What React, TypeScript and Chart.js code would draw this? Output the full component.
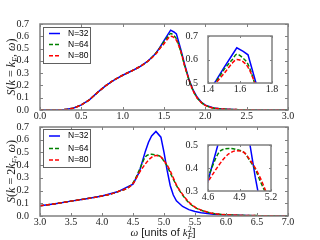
import { useEffect, useRef } from 'react';
import { Chart, registerables } from 'chart.js';
Chart.register(...registerables);

// ---------- data ----------
const seriesLabels = ['N=32', 'N=64', 'N=80'];
const seriesColors = ['#0000ff', '#008000', '#ff0000'];
const seriesDash: number[][] = [[], [4, 2], [4, 2]];

const topOmega = [0, 0.1, 0.2, 0.3, 0.4, 0.5, 0.6, 0.7, 0.8, 0.9, 1.0, 1.1, 1.2, 1.3, 1.4, 1.45, 1.5, 1.55, 1.58, 1.62, 1.65, 1.7, 1.75, 1.8, 1.85, 1.9, 1.95, 2.0, 2.1, 2.2, 2.4, 2.6, 2.8, 3.0];
const topN32 = [0, 0, 0.001, 0.004, 0.015, 0.042, 0.085, 0.145, 0.2, 0.245, 0.283, 0.315, 0.35, 0.395, 0.46, 0.51, 0.565, 0.618, 0.65, 0.635, 0.62, 0.5, 0.37, 0.255, 0.165, 0.105, 0.065, 0.04, 0.017, 0.008, 0.003, 0.001, 0, 0];
const topN64 = [0, 0, 0.001, 0.004, 0.015, 0.042, 0.085, 0.145, 0.2, 0.245, 0.283, 0.315, 0.35, 0.395, 0.462, 0.505, 0.557, 0.598, 0.622, 0.605, 0.58, 0.48, 0.36, 0.25, 0.16, 0.1, 0.062, 0.038, 0.016, 0.008, 0.003, 0.001, 0, 0];
const topN80 = [0, 0, 0.001, 0.004, 0.015, 0.042, 0.085, 0.145, 0.2, 0.245, 0.283, 0.315, 0.35, 0.395, 0.455, 0.5, 0.54, 0.583, 0.6, 0.59, 0.567, 0.485, 0.36, 0.25, 0.16, 0.1, 0.062, 0.038, 0.016, 0.008, 0.003, 0.001, 0, 0];

const botOmega = [3.0, 3.25, 3.5, 3.75, 4.0, 4.25, 4.5, 4.6, 4.7, 4.75, 4.8, 4.87, 4.95, 5.0, 5.05, 5.1, 5.15, 5.2, 5.3, 5.4, 5.5, 5.6, 5.8, 6.0, 6.5, 7.0];
const botN32 = [0.08, 0.097, 0.117, 0.136, 0.157, 0.19, 0.25, 0.345, 0.51, 0.58, 0.63, 0.665, 0.62, 0.5, 0.36, 0.24, 0.165, 0.12, 0.075, 0.05, 0.035, 0.026, 0.014, 0.007, 0.002, 0];
const botN64 = [0.08, 0.097, 0.117, 0.136, 0.157, 0.19, 0.26, 0.36, 0.465, 0.482, 0.485, 0.48, 0.465, 0.43, 0.395, 0.34, 0.29, 0.24, 0.165, 0.105, 0.068, 0.045, 0.02, 0.01, 0.003, 0];
const botN80 = [0.08, 0.097, 0.117, 0.136, 0.157, 0.19, 0.255, 0.34, 0.41, 0.44, 0.462, 0.475, 0.465, 0.435, 0.4, 0.355, 0.3, 0.245, 0.17, 0.11, 0.07, 0.046, 0.02, 0.01, 0.003, 0];

const topXTicks = [0, 0.5, 1.0, 1.5, 2.0, 2.5, 3.0];
const botXTicks = [3.0, 3.5, 4.0, 4.5, 5.0, 5.5, 6.0, 6.5, 7.0];
const mainYTicks = [0, 0.1, 0.2, 0.3, 0.4, 0.5, 0.6, 0.7];
const topInsetXTicks = [1.4, 1.6, 1.8];
const topInsetYTicks = [0.5, 0.6, 0.7];
const botInsetXTicks = [4.6, 4.9, 5.2];
const botInsetYTicks = [0.3, 0.4, 0.5];

// ---------- styling ----------
const FRAME = '#808080';
const TXT = '#1a1a1a';
const TICK_FONT = { family: '"Liberation Serif", serif', size: 10 };
const MI = 'italic 12px "Liberation Serif"';
const MR = '12px "Liberation Serif"';
const MS = 'italic 8px "Liberation Serif"';
const MSR = '8px "Liberation Serif"';
const SANS = '11px "Liberation Sans"';
const MIX = 'italic 11px "Liberation Serif"';

type Seg = { t: string; f: string; dy?: number; adv?: boolean };

function drawSegs(ctx: CanvasRenderingContext2D, segs: Seg[], cx: number, cy: number) {
  let total = 0;
  for (const s of segs) {
    ctx.font = s.f;
    if (s.adv !== false) total += ctx.measureText(s.t).width;
  }
  let x = cx - total / 2;
  ctx.textAlign = 'left';
  ctx.textBaseline = 'alphabetic';
  ctx.fillStyle = TXT;
  for (const s of segs) {
    ctx.font = s.f;
    ctx.fillText(s.t, x, cy + (s.dy || 0));
    if (s.adv !== false) x += ctx.measureText(s.t).width;
  }
}

const yTitleTop: Seg[] = [
  { t: 'S', f: MI }, { t: '(', f: MR }, { t: 'k', f: MI }, { t: ' = ', f: MR },
  { t: 'k', f: MI }, { t: 'F', f: MS, dy: 2.5 }, { t: ', ', f: MR }, { t: 'ω', f: MI }, { t: ')', f: MR },
];
const yTitleBot: Seg[] = [
  { t: 'S', f: MI }, { t: '(', f: MR }, { t: 'k', f: MI }, { t: ' = ', f: MR }, { t: '2', f: MR },
  { t: 'k', f: MI }, { t: 'F', f: MS, dy: 2.5 }, { t: ', ', f: MR }, { t: 'ω', f: MI }, { t: ')', f: MR },
];
const xTitleSegs: Seg[] = [
  { t: 'ω', f: MIX }, { t: ' [units of ', f: SANS }, { t: 'k', f: MIX },
  { t: '2', f: MSR, dy: -4.5, adv: false }, { t: 'F', f: MS, dy: 2.5 }, { t: ']', f: SANS },
];

type Panel = {
  xs: number[]; ys: number[][];
  xmin: number; xmax: number; ymin: number; ymax: number;
  xticks: number[]; yticks: number[];
  area: { l: number; t: number; r: number; b: number };
  yw: number; xh: number; xpad: number; ypad: number; tickLen: number;
  inset: boolean;
  legend?: { x: number; y: number; w: number; h: number; rows: number[] };
  ytitle?: { segs: Seg[]; x: number; y: number };
  xtitle?: { segs: Seg[]; x: number; y: number };
};

const panels: Panel[] = [
  {
    xs: topOmega, ys: [topN32, topN64, topN80], xmin: 0, xmax: 3, ymin: 0, ymax: 0.7,
    xticks: topXTicks, yticks: mainYTicks, area: { l: 40, t: 24, r: 288, b: 110 },
    yw: 40, xh: 16, xpad: -8, ypad: 3, tickLen: 3, inset: false,
    legend: { x: 43, y: 27, w: 47, h: 36, rows: [6.5, 17.5, 28.7] },
    ytitle: { segs: yTitleTop, x: 15, y: 67 },
  },
  {
    xs: botOmega, ys: [botN32, botN64, botN80], xmin: 3, xmax: 7, ymin: 0, ymax: 0.7,
    xticks: botXTicks, yticks: mainYTicks, area: { l: 40, t: 127, r: 288, b: 216 },
    yw: 40, xh: 16, xpad: -8, ypad: 3, tickLen: 3, inset: false,
    legend: { x: 43, y: 129, w: 47, h: 38, rows: [7, 19.5, 31] },
    ytitle: { segs: yTitleBot, x: 15, y: 171.5 },
    xtitle: { segs: xTitleSegs, x: 163, y: 236 },
  },
  {
    xs: topOmega, ys: [topN32, topN64, topN80], xmin: 1.4, xmax: 1.8, ymin: 0.5, ymax: 0.7,
    xticks: topInsetXTicks, yticks: topInsetYTicks, area: { l: 208, t: 36, r: 272, b: 83 },
    yw: 28, xh: 16, xpad: -8, ypad: 2, tickLen: 2, inset: true,
  },
  {
    xs: botOmega, ys: [botN32, botN64, botN80], xmin: 4.6, xmax: 5.2, ymin: 0.3, ymax: 0.5,
    xticks: botInsetXTicks, yticks: botInsetYTicks, area: { l: 208, t: 145, r: 271, b: 191 },
    yw: 28, xh: 16, xpad: -8, ypad: 2, tickLen: 2, inset: true,
  },
];

function makeChart(canvas: HTMLCanvasElement, p: Panel) {
  const deco = {
    id: 'deco',
    beforeDatasetsDraw(chart: any) {
      const { ctx, chartArea: a } = chart;
      if (p.inset) {
        ctx.save();
        ctx.fillStyle = '#ffffff';
        ctx.fillRect(a.left, a.top, a.right - a.left, a.bottom - a.top);
        ctx.restore();
      }
    },
    afterDatasetsDraw(chart: any) {
      const { ctx, chartArea: a } = chart;
      const xs = chart.scales.x;
      const ys = chart.scales.y;
      ctx.save();
      ctx.strokeStyle = FRAME;
      ctx.lineWidth = 1;
      ctx.setLineDash([]);
      ctx.beginPath();
      for (const v of p.xticks) {
        const px = Math.round(xs.getPixelForValue(v)) + 0.5;
        ctx.moveTo(px, a.bottom); ctx.lineTo(px, a.bottom - p.tickLen);
        ctx.moveTo(px, a.top); ctx.lineTo(px, a.top + p.tickLen);
      }
      for (const v of p.yticks) {
        const py = Math.round(ys.getPixelForValue(v)) + 0.5;
        ctx.moveTo(a.left, py); ctx.lineTo(a.left + p.tickLen, py);
        ctx.moveTo(a.right, py); ctx.lineTo(a.right - p.tickLen, py);
      }
      ctx.stroke();
      ctx.lineWidth = 1.5;
      ctx.strokeRect(a.left, a.top, a.right - a.left, a.bottom - a.top);
      ctx.restore();
    },
    afterDraw(chart: any) {
      const { ctx } = chart;
      ctx.save();
      if (p.legend) {
        const L = p.legend;
        ctx.fillStyle = '#ffffff';
        ctx.fillRect(L.x, L.y, L.w, L.h);
        ctx.strokeStyle = '#606060';
        ctx.lineWidth = 1;
        ctx.strokeRect(L.x + 0.5, L.y + 0.5, L.w, L.h);
        chart.data.datasets.forEach((d: any, i: number) => {
          const y = L.y + L.rows[i];
          ctx.strokeStyle = d.borderColor;
          ctx.lineWidth = 1.5;
          ctx.setLineDash(d.borderDash || []);
          ctx.beginPath();
          ctx.moveTo(L.x + 6, y); ctx.lineTo(L.x + 17, y);
          ctx.stroke();
          ctx.setLineDash([]);
          ctx.fillStyle = '#000000';
          ctx.font = '8.5px "Liberation Sans"';
          ctx.textAlign = 'left';
          ctx.textBaseline = 'middle';
          ctx.fillText(d.label, L.x + 25, y);
        });
      }
      if (p.ytitle) {
        ctx.translate(p.ytitle.x, p.ytitle.y);
        ctx.rotate(-Math.PI / 2);
        drawSegs(ctx, p.ytitle.segs, 0, 0);
        ctx.setTransform(1, 0, 0, 1, 0, 0);
      }
      if (p.xtitle) drawSegs(ctx, p.xtitle.segs, p.xtitle.x, p.xtitle.y);
      ctx.restore();
    },
  };

  const fmt = (v: any) => Number(v).toFixed(1);

  return new Chart(canvas, {
    type: 'line',
    data: {
      datasets: p.ys.map((ys, k) => ({
        label: seriesLabels[k],
        data: p.xs.map((x, i) => ({ x, y: ys[i] })),
        borderColor: seriesColors[k],
        borderWidth: 1.5,
        borderDash: seriesDash[k],
        pointRadius: 0,
        fill: false,
        tension: k === 0 ? 0 : 0.4,
        cubicInterpolationMode: k === 0 ? 'default' : 'monotone',
        clip: 0,
        order: 2 - k,
      })),
    },
    options: {
      responsive: false,
      animation: false,
      devicePixelRatio: 1,
      events: [],
      layout: {
        padding: {
          left: p.area.l - p.yw,
          top: p.area.t,
          right: 320 - p.area.r,
          bottom: 240 - p.area.b - p.xh,
        },
      },
      plugins: { legend: { display: false }, tooltip: { enabled: false }, title: { display: false } },
      scales: {
        x: {
          type: 'linear', min: p.xmin, max: p.xmax,
          grid: { display: false }, border: { display: false },
          afterBuildTicks: (s: any) => { s.ticks = p.xticks.map((v) => ({ value: v })); },
          afterFit: (s: any) => { s.height = p.xh; },
          ticks: { font: TICK_FONT, color: TXT, padding: p.xpad, maxRotation: 0, minRotation: 0, autoSkip: false, callback: fmt },
        },
        y: {
          type: 'linear', min: p.ymin, max: p.ymax,
          grid: { display: false }, border: { display: false },
          afterBuildTicks: (s: any) => { s.ticks = p.yticks.map((v) => ({ value: v })); },
          afterFit: (s: any) => { s.width = p.yw; },
          ticks: { font: TICK_FONT, color: TXT, padding: p.ypad, autoSkip: false, callback: fmt },
        },
      },
    } as any,
    plugins: [deco],
  } as any);
}

export default function App() {
  const r0 = useRef<HTMLCanvasElement>(null);
  const r1 = useRef<HTMLCanvasElement>(null);
  const r2 = useRef<HTMLCanvasElement>(null);
  const r3 = useRef<HTMLCanvasElement>(null);
  const refs = [r0, r1, r2, r3];

  useEffect(() => {
    const charts = panels.map((p, i) => makeChart(refs[i].current as HTMLCanvasElement, p));
    return () => charts.forEach((c) => c.destroy());
  }, []);

  return (
    <div style={{ position: 'fixed', left: 0, top: 0, width: 320, height: 240, background: '#ffffff' }}>
      {refs.map((r, i) => (
        <canvas
          key={i}
          ref={r}
          width={320}
          height={240}
          style={{ position: 'absolute', left: 0, top: 0, width: 320, height: 240 }}
        />
      ))}
    </div>
  );
}
